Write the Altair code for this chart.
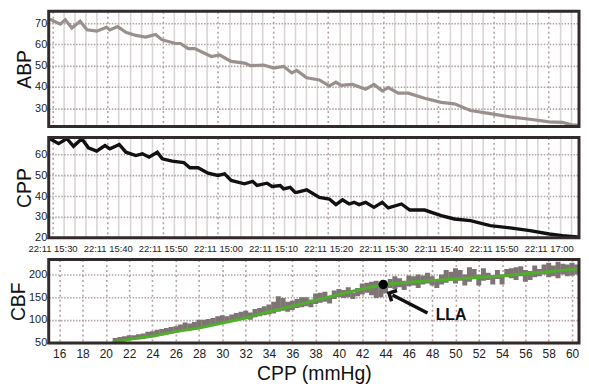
import altair as alt
import pandas as pd

# ---------------- data ----------------
time_labels = ["22:11 15:30", "22:11 15:40", "22:11 15:50", "22:11 15:00", "22:11 15:10",
               "22:11 15:20", "22:11 15:30", "22:11 15:40", "22:11 15:50", "22:11 17:00"]

abp_t = [-0.5, 1.4, 2.3, 3.5, 5.0, 6.25, 8.0, 9.8, 10.4, 11.8, 13.3, 15.1, 16.9, 18.7, 19.8,
         22.3, 23.2, 24.6, 25.8, 28.8, 30.3, 32.4, 34.8, 35.9, 38.3, 40.1, 41.9, 43.4, 44.3,
         46.1, 48.4, 50.2, 51.4, 52.3, 54.4, 56.8, 58.3, 59.8, 60.9, 62.7, 64.5, 67.5, 70.5,
         72.9, 75.8, 79.4, 83.0, 86.6, 90.1, 92.5, 94.3, 95.7]
abp_v = [71.8, 69.5, 71.5, 67.7, 70.8, 66.8, 66.2, 68.0, 66.8, 68.3, 65.7, 64.2, 63.4, 64.6, 62.2,
         60.4, 60.4, 58.0, 58.0, 54.3, 55.0, 52.0, 51.2, 50.0, 50.3, 48.9, 49.7, 46.6, 47.8,
         44.3, 43.3, 40.5, 42.3, 40.8, 41.2, 39.0, 41.2, 38.2, 39.7, 37.1, 37.1, 34.7, 32.8,
         32.1, 29.0, 27.5, 26.0, 24.9, 23.7, 23.4, 22.2, 22.2]

cpp_t = [-0.5, 1.1, 2.6, 3.8, 5.3, 6.5, 8.0, 9.5, 10.4, 12.1, 13.3, 15.1, 16.3, 17.5, 19.0, 19.9,
         21.7, 23.8, 24.9, 26.4, 28.2, 30.0, 31.2, 32.4, 34.8, 36.3, 37.1, 38.9, 39.8, 41.3, 41.9,
         43.1, 44.0, 44.3, 46.1, 48.4, 50.2, 51.4, 52.6, 53.8, 54.7, 55.6, 56.8, 58.3, 59.8, 60.9,
         63.3, 64.8, 67.5, 70.5, 72.9, 75.8, 79.4, 83.0, 86.6, 90.1, 92.5, 95.7]
cpp_v = [67.6, 65.2, 67.6, 63.9, 67.6, 63.2, 61.6, 64.3, 62.7, 64.8, 61.1, 59.5, 60.3, 58.7, 61.1, 57.9,
         56.8, 56.1, 53.6, 53.6, 51.0, 49.9, 50.7, 47.5, 45.9, 47.1, 45.1, 46.2, 44.6, 45.1, 43.5,
         44.2, 41.8, 41.8, 43.0, 39.4, 38.6, 35.9, 38.2, 36.2, 37.0, 35.9, 37.0, 34.6, 37.0, 34.3,
         36.2, 33.3, 33.3, 30.6, 29.0, 28.2, 25.8, 24.7, 23.4, 21.8, 21.0, 20.2]

cbf_x = [20.8, 21.2, 21.6, 22.0, 22.4, 22.8, 23.2, 23.6, 24.0, 24.4, 24.8, 25.2, 25.6, 26.0, 26.4,
         26.8, 27.2, 27.6, 28.0, 28.4, 28.8, 29.2, 29.6, 30.0, 30.4, 30.8, 31.2, 31.6, 32.0, 32.4,
         32.8, 33.2, 33.6, 34.0, 34.4, 34.8, 35.2, 35.6, 36.0, 36.4, 36.8, 37.2, 37.6, 38.0, 38.4,
         38.8, 39.2, 39.6, 40.0, 40.4, 40.8, 41.2, 41.6, 42.0, 42.4, 42.8, 43.2, 43.6, 44.0, 44.4,
         44.8, 45.2, 45.6, 46.0, 46.4, 46.8, 47.2, 47.6, 48.0, 48.4, 48.8, 49.2, 49.6, 50.0, 50.4,
         50.8, 51.2, 51.6, 52.0, 52.4, 52.8, 53.2, 53.6, 54.0, 54.4, 54.8, 55.2, 55.6, 56.0, 56.4,
         56.8, 57.2, 57.6, 58.0, 58.4, 58.8, 59.2, 59.6, 60.0, 60.4]
cbf_lo = [50, 52, 53, 55, 56, 57, 58, 62, 63, 65, 66, 68, 70, 72, 74,
          76, 80, 82, 80, 84, 86, 88, 90, 92, 94, 96, 98, 100, 102, 100,
          106, 108, 110, 112, 114, 118, 120, 118, 122, 126, 128, 130, 128, 135, 138,
          140, 136, 146, 150, 148, 150, 146, 152, 156, 160, 154, 148, 150, 158, 170,
          168, 172, 166, 174, 176, 170, 178, 180, 176, 170, 178, 182, 186, 180, 186,
          176, 184, 190, 176, 186, 188, 178, 190, 178, 194, 192, 188, 196, 184, 188,
          194, 196, 200, 194, 196, 192, 200, 196, 198, 200]
cbf_hi = [60, 62, 64, 66, 66, 68, 70, 74, 75, 78, 80, 82, 84, 86, 90,
          94, 92, 95, 100, 100, 102, 104, 108, 110, 108, 112, 115, 118, 120, 116,
          124, 126, 130, 134, 140, 152, 148, 140, 142, 146, 150, 150, 145, 158, 160,
          162, 150, 165, 168, 166, 172, 160, 170, 180, 182, 184, 186, 182, 176, 190,
          196, 192, 186, 198, 196, 200, 198, 204, 196, 190, 200, 210, 206, 214, 210,
          200, 216, 212, 200, 214, 204, 198, 210, 200, 212, 214, 216, 218, 210, 208,
          220, 212, 222, 226, 220, 228, 224, 222, 226, 222]

fit_x = [20.6, 22, 24, 26, 28, 30, 32, 34, 36, 38, 40, 42, 43.8, 46, 50, 54, 58, 60.6]
fit_y = [50, 57, 64, 74, 82, 93, 104, 118, 130, 143, 156, 168, 178, 183, 190, 197, 206, 213]

lla_x = [43.8]
lla_y = [178]
arrow_x = [47.6, 44.6]
arrow_y = [115, 155]
lla_text_x = [48.3]
lla_text_y = [111]

# ---------------- styling ----------------
FONT = "Liberation Sans"
GRID_DOT = "#b3a3a3"
GRID_SOLID = "#dcd5d5"
LABEL_C = "#222222"
FRAME = "#332b2b"
W = 534
H1, H2, H3 = 116, 101, 84

abp_df = pd.DataFrame({"t": abp_t, "v": abp_v})
cpp_df = pd.DataFrame({"t": cpp_t, "v": cpp_v})
cbf_df = pd.DataFrame({"x": cbf_x, "y": cbf_lo, "y2": cbf_hi})
fit_df = pd.DataFrame({"x": fit_x, "y": fit_y})
lla_df = pd.DataFrame({"x": lla_x, "y": lla_y})
arrow_df = pd.DataFrame({"x": arrow_x, "y": arrow_y, "o": [0, 1]})
arrow_head_df = pd.DataFrame({"x": arrow_x[1:], "y": arrow_y[1:]})
lla_text_df = pd.DataFrame({"x": lla_text_x, "y": lla_text_y, "txt": ["LLA"]})
one_row = pd.DataFrame({"k": [0]})

t_domain = [-0.7, 95.5]
t_values = list(range(0, 96, 2))
label_array = "[" + ",".join("'" + s + "'" for s in time_labels) + "]"


def frame(h):
    return alt.Chart(one_row).mark_rect(
        filled=False, stroke=FRAME, strokeWidth=3, fillOpacity=0
    ).encode(x=alt.value(0), x2=alt.value(W), y=alt.value(0), y2=alt.value(h))


def time_axis(show_labels):
    kw = dict(
        values=t_values,
        title=None,
        domain=False,
        ticks=False,
        grid=True,
        gridColor={"condition": {"test": "datum.value % 10 === 0", "value": GRID_DOT}, "value": GRID_SOLID},
        gridDash={"condition": {"test": "datum.value % 10 === 0", "value": [2, 3]}, "value": [1, 0]},
        gridWidth=1.6,
        labelFont=FONT,
        labelFontSize=9.5,
        labelColor=LABEL_C,
        labelPadding=6,
    )
    if show_labels:
        kw["labelExpr"] = f"datum.value % 10 === 0 ? {label_array}[datum.value / 10] : ''"
        kw["labelOverlap"] = False
        kw["labelBound"] = False
        kw["labelFlush"] = False
    else:
        kw["labels"] = False
    return alt.Axis(**kw)


def y_axis(title, values):
    return alt.Axis(
        title=title,
        values=values,
        grid=True,
        gridColor=GRID_DOT,
        gridDash=[1.5, 1.5],
        gridWidth=1.6,
        domain=False,
        ticks=True,
        tickSize=2,
        tickColor="#555",
        labelFont=FONT,
        labelFontSize=11,
        labelColor=LABEL_C,
        labelPadding=0,
        labelOverlap=False,
        titleFont=FONT,
        titleFontSize=19.5,
        titleFontWeight="normal",
        titleColor="#111",
        titlePadding=0,
    )


abp_line = alt.Chart(abp_df).mark_line(color="#9a8f8d", strokeWidth=3.2, clip=True).encode(
    x=alt.X("t:Q", scale=alt.Scale(domain=t_domain, nice=False, zero=False), axis=time_axis(False)),
    y=alt.Y("v:Q", scale=alt.Scale(domain=[21.5, 75.5], nice=False, zero=False),
            axis=y_axis("ABP", [30, 40, 50, 60, 70])),
)
abp_chart = alt.layer(abp_line, frame(H1)).properties(width=W, height=H1)

cpp_line = alt.Chart(cpp_df).mark_line(color="#111111", strokeWidth=3.4, clip=True).encode(
    x=alt.X("t:Q", scale=alt.Scale(domain=t_domain, nice=False, zero=False), axis=time_axis(True)),
    y=alt.Y("v:Q", scale=alt.Scale(domain=[20, 68.2], nice=False, zero=False),
            axis=y_axis("CPP", [20, 30, 40, 50, 60])),
)
cpp_chart = alt.layer(cpp_line, frame(H2)).properties(width=W, height=H2)

xs = alt.Scale(domain=[15.1, 60.6], nice=False, zero=False)
ys = alt.Scale(domain=[49, 233], nice=False, zero=False)

x_axis3 = alt.Axis(
    title="CPP (mmHg)",
    values=list(range(16, 61, 2)),
    grid=True,
    gridColor=GRID_DOT,
    gridDash=[2, 3],
    gridWidth=1.6,
    domain=False,
    ticks=False,
    labelFont=FONT,
    labelFontSize=12,
    labelColor=LABEL_C,
    labelPadding=6,
    labelOverlap=False,
    labelFlush=False,
    labelBound=False,
    titleFont=FONT,
    titleFontSize=19.5,
    titleFontWeight="normal",
    titleColor="#111",
    titlePadding=5,
)

X3 = alt.X("x:Q", scale=xs, axis=x_axis3)
Y3 = alt.Y("y:Q", scale=ys, axis=y_axis("CBF", [50, 100, 150, 200]))

scatter = alt.Chart(cbf_df).mark_rule(color="#7e7474", strokeWidth=5, clip=True).encode(
    x=X3, y=Y3, y2="y2:Q",
)
fit = alt.Chart(fit_df).mark_line(color="#4fae2a", strokeWidth=3, clip=True).encode(x=X3, y=Y3)
lla_pt = alt.Chart(lla_df).mark_point(filled=True, color="#000", size=90, opacity=1).encode(x=X3, y=Y3)
arrow = alt.Chart(arrow_df).mark_line(color="#111", strokeWidth=3.5).encode(x=X3, y=Y3, order="o:Q")
arrow_head = alt.Chart(arrow_head_df).mark_point(
    shape="M -0.9 0.3 L 0 -0.6 L 0.9 0.3", filled=False, color="#111", strokeWidth=3.5,
    size=180, angle=297, opacity=1
).encode(x=X3, y=Y3)
lla_text = alt.Chart(lla_text_df).mark_text(
    font=FONT, fontSize=16, fontWeight="bold", color="#111", align="left", baseline="middle"
).encode(x=X3, y=Y3, text="txt:N")

cbf_chart = alt.layer(scatter, fit, arrow, arrow_head, lla_pt, lla_text, frame(H3)).properties(
    width=W, height=H3)

top = alt.vconcat(abp_chart, cpp_chart, spacing=7)
chart = alt.vconcat(top, cbf_chart, spacing=4).properties(
    padding=0
).configure_view(
    stroke=None
).configure(background="white")

chart.save("out.html", embed_options={"renderer": "svg", "actions": False})
